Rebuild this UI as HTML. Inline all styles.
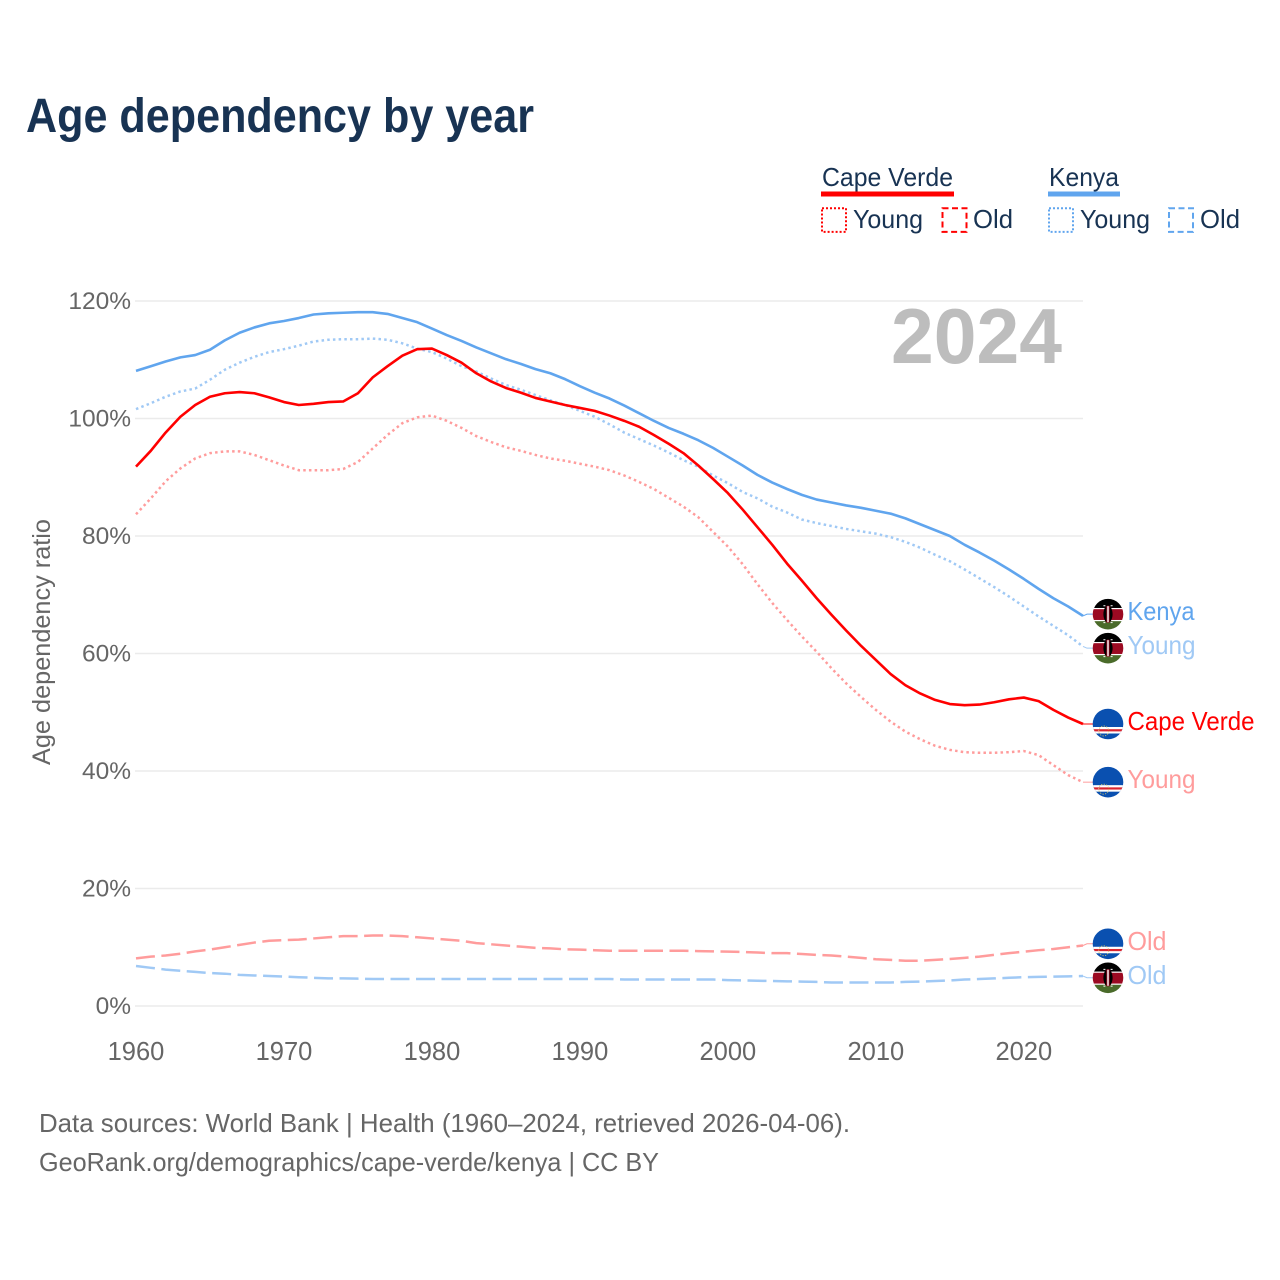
<!DOCTYPE html>
<html lang="en">
<head>
<meta charset="utf-8">
<title>Age dependency by year</title>
<style>
html,body{margin:0;padding:0;background:#fff;}
svg{display:block;font-family:"Liberation Sans",sans-serif;}
</style>
</head>
<body>
<svg id="chart" xmlns="http://www.w3.org/2000/svg" width="1280" height="1280" viewBox="0 0 1280 1280">
  <defs>
    <clipPath id="flag-clip"><circle cx="0" cy="0" r="15.3"/></clipPath>
    <g id="flag-ke" clip-path="url(#flag-clip)">
      <rect x="-16" y="-16" width="32" height="32" fill="#fff"/>
      <rect x="-16" y="-16" width="32" height="9.8" fill="#000"/>
      <rect x="-16" y="-5" width="32" height="10.8" fill="#9b0a22"/>
      <rect x="-16" y="7" width="32" height="9" fill="#4a6b2a"/>
      <ellipse cx="0" cy="0" rx="4.6" ry="8.6" fill="#9b0a22"/>
      <path d="M-4.6 0C-4.6-4-3-7-1.6-8V8C-3 7-4.6 4-4.6 0Z M4.6 0C4.6-4 3-7 1.6-8V8C3 7 4.6 4 4.6 0Z" fill="#000"/>
      <rect x="-0.7" y="-8" width="1.4" height="16" fill="#fff"/>
      <path d="M-4.6-8.4L-2.6-8.4M2.6-8.4L4.6-8.4M-4.6 8.4L-2.6 8.4M2.6 8.4L4.6 8.4" stroke="#fff" stroke-width="1"/>
    </g>
    <g id="flag-cv" clip-path="url(#flag-clip)">
      <rect x="-16" y="-16" width="32" height="32" fill="#0a50b0"/>
      <rect x="-16" y="3" width="32" height="6.5" fill="#fff"/>
      <rect x="-16" y="5.2" width="32" height="2.2" fill="#d9242f"/>
      <circle cx="-4.3" cy="7" r="5" fill="none" stroke="#d9c766" stroke-width="0.9" stroke-dasharray="1.2 1.4"/>
    </g>
  </defs>

  <text x="26" y="132" font-size="48" font-weight="700" fill="#183353" textLength="508" lengthAdjust="spacingAndGlyphs">Age dependency by year</text>

  <g font-size="26" fill="#183353">
    <text x="822" y="186" textLength="131" lengthAdjust="spacingAndGlyphs">Cape Verde</text>
    <rect x="821" y="191.5" width="133" height="5" fill="#ff0000"/>
    <rect x="822" y="208.3" width="24" height="23.6" fill="none" stroke="#ff0000" stroke-width="2" stroke-dasharray="2 2"/>
    <text x="853" y="228" textLength="70" lengthAdjust="spacingAndGlyphs">Young</text>
    <rect x="942.5" y="208.3" width="24" height="23.6" fill="none" stroke="#ff0000" stroke-width="2" stroke-dasharray="6 3.5"/>
    <text x="973" y="228" textLength="40" lengthAdjust="spacingAndGlyphs">Old</text>
    <text x="1049" y="186" textLength="70" lengthAdjust="spacingAndGlyphs">Kenya</text>
    <rect x="1048" y="191.5" width="72" height="5" fill="#60a5ee"/>
    <rect x="1049" y="208.3" width="24" height="23.6" fill="none" stroke="#60a5ee" stroke-width="2" stroke-dasharray="2 2"/>
    <text x="1080" y="228" textLength="70" lengthAdjust="spacingAndGlyphs">Young</text>
    <rect x="1169" y="208.3" width="24" height="23.6" fill="none" stroke="#60a5ee" stroke-width="2" stroke-dasharray="6 3.5"/>
    <text x="1200" y="228" textLength="40" lengthAdjust="spacingAndGlyphs">Old</text>
  </g>

  <g id="grid"></g>
  <g id="y-ticks"></g>
  <g id="x-ticks"></g>

  <text x="1062" y="363" text-anchor="end" font-size="78" font-weight="700" fill="#bdbdbd" textLength="171" lengthAdjust="spacingAndGlyphs">2024</text>

  <text transform="translate(50 765) rotate(-90)" font-size="25" fill="#666" textLength="246" lengthAdjust="spacingAndGlyphs">Age dependency ratio</text>

  <g id="series"></g>
  <g id="end-labels"></g>

  <g font-size="26" fill="#666">
    <text x="39" y="1132" textLength="811" lengthAdjust="spacingAndGlyphs">Data sources: World Bank | Health (1960–2024, retrieved 2026-04-06).</text>
    <text x="39" y="1171" textLength="620" lengthAdjust="spacingAndGlyphs">GeoRank.org/demographics/cape-verde/kenya | CC BY</text>
  </g>
</svg>

<script>
var years = [1960,1961,1962,1963,1964,1965,1966,1967,1968,1969,1970,1971,1972,1973,1974,1975,1976,1977,1978,1979,1980,1981,1982,1983,1984,1985,1986,1987,1988,1989,1990,1991,1992,1993,1994,1995,1996,1997,1998,1999,2000,2001,2002,2003,2004,2005,2006,2007,2008,2009,2010,2011,2012,2013,2014,2015,2016,2017,2018,2019,2020,2021,2022,2023,2024];
var xTickYears = [1960,1970,1980,1990,2000,2010,2020];
var yTickValues = [0,20,40,60,80,100,120];

var capeVerdeTotal = [91.8,94.5,97.6,100.3,102.3,103.7,104.3,104.5,104.3,103.6,102.8,102.3,102.5,102.8,102.9,104.3,107.0,108.9,110.7,111.8,111.9,110.8,109.5,107.7,106.3,105.2,104.4,103.5,102.9,102.3,101.8,101.3,100.5,99.6,98.6,97.2,95.7,94.1,92.0,89.7,87.3,84.5,81.5,78.5,75.3,72.4,69.4,66.6,63.9,61.3,58.9,56.5,54.6,53.2,52.1,51.4,51.2,51.3,51.7,52.2,52.5,51.9,50.4,49.1,48.0];
var capeVerdeYoung = [83.7,86.4,89.3,91.5,93.2,94.1,94.4,94.4,93.8,92.9,92.0,91.2,91.2,91.2,91.4,92.6,94.9,97.2,99.2,100.2,100.5,99.6,98.4,97.0,96.0,95.1,94.5,93.8,93.2,92.8,92.3,91.8,91.2,90.3,89.2,88.0,86.5,85.0,83.2,80.7,78.2,75.2,71.8,68.6,65.7,62.9,60.3,57.5,54.9,52.6,50.4,48.4,46.7,45.4,44.3,43.6,43.2,43.1,43.1,43.2,43.4,42.7,41.0,39.3,38.1];
var capeVerdeOld = [8.1,8.4,8.6,8.9,9.3,9.6,10.0,10.4,10.8,11.1,11.2,11.3,11.5,11.7,11.9,11.9,12.0,12.0,11.9,11.7,11.5,11.3,11.1,10.7,10.5,10.3,10.1,9.9,9.8,9.65,9.6,9.5,9.4,9.4,9.4,9.4,9.4,9.4,9.35,9.3,9.25,9.2,9.1,9.0,9.0,8.85,8.7,8.6,8.4,8.2,7.95,7.85,7.7,7.7,7.85,8.0,8.2,8.4,8.7,9.0,9.25,9.5,9.7,10.0,10.3];
var kenyaTotal = [108.1,108.9,109.7,110.4,110.8,111.7,113.3,114.6,115.5,116.2,116.6,117.1,117.7,117.9,118.0,118.1,118.1,117.8,117.1,116.4,115.3,114.2,113.2,112.1,111.1,110.1,109.3,108.4,107.7,106.7,105.5,104.4,103.4,102.2,100.9,99.6,98.4,97.4,96.3,95.0,93.5,92.0,90.4,89.1,88.0,87.0,86.2,85.7,85.2,84.8,84.3,83.8,83.0,82.0,81.0,80.0,78.5,77.2,75.8,74.3,72.7,71.0,69.4,68.0,66.4];
var kenyaYoung = [101.6,102.6,103.7,104.6,105.1,106.6,108.3,109.5,110.5,111.3,111.8,112.4,113.1,113.4,113.5,113.5,113.6,113.4,112.8,111.9,111.3,110.2,108.9,108.0,106.8,105.7,104.9,104.0,103.1,102.3,101.3,100.3,99.0,97.6,96.5,95.4,94.2,92.9,91.8,90.3,89.0,87.5,86.4,85.0,84.0,82.8,82.2,81.7,81.2,80.8,80.4,79.8,79.0,78.0,76.8,75.7,74.3,72.8,71.3,69.7,68.0,66.3,64.7,63.1,61.2];
var kenyaOld = [6.8,6.5,6.2,6.0,5.8,5.6,5.5,5.3,5.2,5.1,5.0,4.9,4.8,4.7,4.7,4.65,4.6,4.6,4.6,4.6,4.6,4.6,4.6,4.6,4.6,4.6,4.6,4.6,4.6,4.6,4.6,4.6,4.6,4.5,4.5,4.5,4.5,4.5,4.5,4.5,4.4,4.35,4.3,4.25,4.2,4.15,4.1,4.0,4.0,4.0,4.0,4.0,4.1,4.15,4.25,4.35,4.5,4.6,4.7,4.8,4.9,4.95,5.0,5.05,5.1];

var SVGNS = 'http://www.w3.org/2000/svg';
function xScale(year) { return 136 + (year - 1960) * (1083 - 136) / (2024 - 1960); }
function yScale(value) { return 1006 - value * (1006 - 301) / 120; }

function make(tag, attrs, parent) {
  var el = document.createElementNS(SVGNS, tag);
  for (var k in attrs) { el.setAttribute(k, attrs[k]); }
  parent.appendChild(el);
  return el;
}

var gridGroup = document.getElementById('grid');
var yGroup = document.getElementById('y-ticks');
var xGroup = document.getElementById('x-ticks');
var seriesGroup = document.getElementById('series');
var labelGroup = document.getElementById('end-labels');

yTickValues.forEach(function (v) {
  var line = make('line', {x1: 135, x2: 1083, y1: yScale(v), y2: yScale(v), stroke: '#ebebeb', 'stroke-width': 1.5}, gridGroup);
  
  
  var label = make('text', {x: 131, y: yScale(v) + 8, 'text-anchor': 'end', 'font-size': 24.5, fill: '#666'}, yGroup);
  label.textContent = v + '%';
  
  
});

xTickYears.forEach(function (yr) {
  var label = make('text', {x: xScale(yr), y: 1060, 'text-anchor': 'middle', 'font-size': 25.5, fill: '#666'}, xGroup);
  label.textContent = String(yr);
  
  
});

var DOT = '2.5 3.2', DASH = '19 6.5';
var seriesList = [
  {name: 'kenya-old', values: kenyaOld, color: '#a0c9f5', width: 2.5, dash: DASH, flag: 'flag-ke', label: 'Old', textW: 39},
  {name: 'cape-verde-old', values: capeVerdeOld, color: '#ff9c9c', width: 2.5, dash: DASH, flag: 'flag-cv', label: 'Old', textW: 39},
  {name: 'cape-verde-young', values: capeVerdeYoung, color: '#ff9c9c', width: 2.5, dash: DOT, flag: 'flag-cv', label: 'Young', textW: 68},
  {name: 'kenya-young', values: kenyaYoung, color: '#a0c9f5', width: 2.5, dash: DOT, flag: 'flag-ke', label: 'Young', textW: 68},
  {name: 'kenya-total', values: kenyaTotal, color: '#60a5ee', width: 2.6, dash: '', flag: 'flag-ke', label: 'Kenya', textW: 67},
  {name: 'cape-verde-total', values: capeVerdeTotal, color: '#ff0000', width: 2.6, dash: '', flag: 'flag-cv', label: 'Cape Verde', textW: 127}
];

seriesList.forEach(function (s) {
  var pts = s.values.map(function (v, i) { return xScale(years[i]).toFixed(2) + ',' + yScale(v).toFixed(2); }).join(' ');
  var attrs = {points: pts, fill: 'none', stroke: s.color, 'stroke-width': s.width, 'stroke-linejoin': 'round'};
  if (s.dash) { attrs['stroke-dasharray'] = s.dash; }
  var line = make('polyline', attrs, seriesGroup);
  
  
});

/* End-label placement: start at each series' final value, push apart overlapping neighbours. */
var MIN_GAP = 34;
var placed = seriesList.map(function (s) {
  var endY = yScale(s.values[s.values.length - 1]);
  return {s: s, endY: endY, y: endY};
}).sort(function (a, b) { return a.endY - b.endY; });
for (var pass = 0; pass < 8; pass++) {
  for (var i = 1; i < placed.length; i++) {
    var gap = placed[i].y - placed[i - 1].y;
    if (gap < MIN_GAP) {
      var push = (MIN_GAP - gap) / 2;
      placed[i - 1].y -= push;
      placed[i].y += push;
    }
  }
}

placed.forEach(function (p) {
  var s = p.s;
  var d = 'M1083 ' + p.endY.toFixed(2) + 'L1087 ' + p.y.toFixed(2) + 'L1093 ' + p.y.toFixed(2);
  var conn = make('path', {d: d, fill: 'none', stroke: s.color, 'stroke-width': 1}, labelGroup);
  
  
  var flag = make('use', {href: '#' + s.flag, x: 1108, y: p.y}, labelGroup);
  
  
  var text = make('text', {x: 1127.5, y: p.y + 6, 'font-size': 26, fill: s.color, textLength: s.textW, lengthAdjust: 'spacingAndGlyphs'}, labelGroup);
  text.textContent = s.label;
  
  
});
</script>
</body>
</html>
